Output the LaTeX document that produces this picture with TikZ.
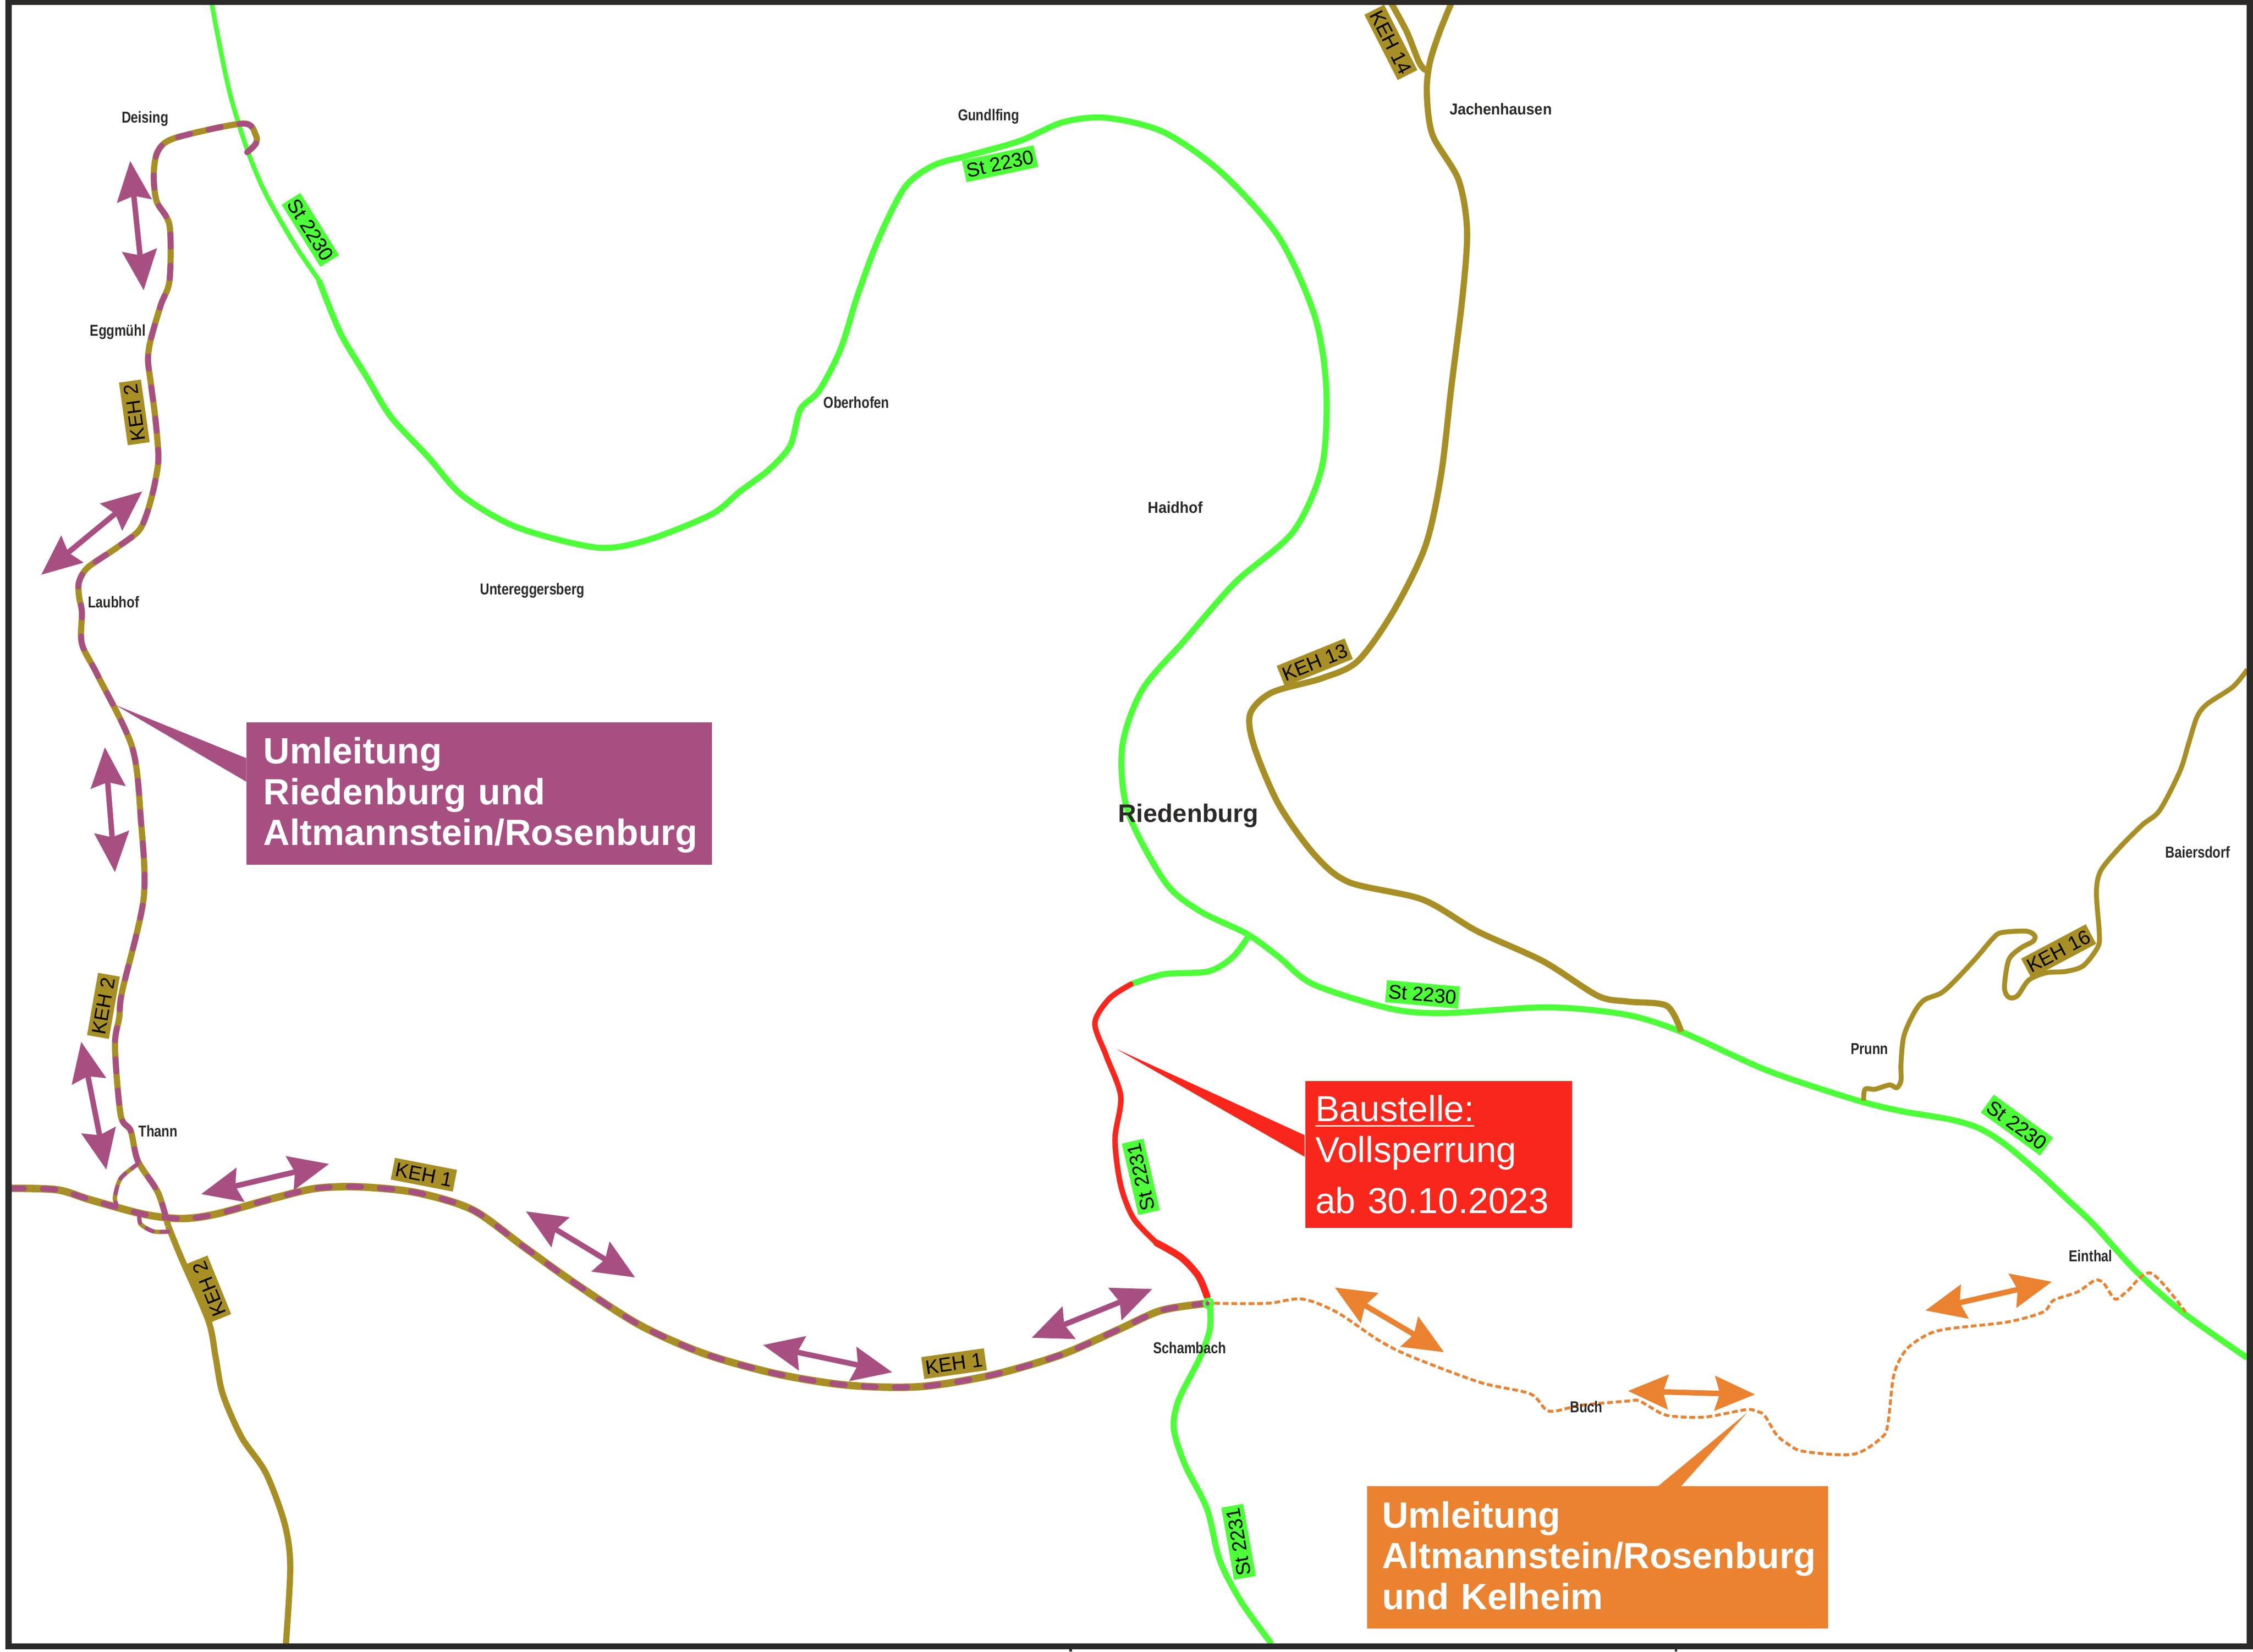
\documentclass[tikz,border=0pt]{standalone}
\usepackage{fontspec}
\setmainfont{Liberation Sans}
\newfontfamily\townfont[FakeStretch=.82]{Liberation Sans}
\newfontfamily\widetownfont[FakeStretch=.93]{Liberation Sans}
\usetikzlibrary{arrows.meta}
\definecolor{stgreen}{HTML}{4DFF38}
\definecolor{kehbrown}{HTML}{A88F25}
\definecolor{detourpurple}{HTML}{A84F82}
\definecolor{detourorange}{HTML}{EA8230}
\definecolor{sitered}{HTML}{F9261C}
\definecolor{mapdark}{HTML}{2B2A29}
\tikzset{
stroad/.style={draw=stgreen, line width=2.1pt, line join=round},
kehroad/.style={draw=kehbrown, line width=2.15pt, line join=round},
detourdash/.style={draw=detourpurple, line width=2pt, line cap=round, dash pattern=on 4.4pt off 6.5pt},
orangedash/.style={draw=detourorange, line width=1pt, dash pattern=on 2pt off 1pt},
detourarrow/.style={line width=1.9pt, <->, >={Stealth[length=13.9pt,width=11.9pt,inset=1.7pt]}},
stsign/.style={fill=stgreen, inner sep=0pt, minimum width=25.5pt, minimum height=7.7pt, font=\fontsize{6.9pt}{8pt}\selectfont},
kehsign/.style={stsign, fill=kehbrown},
town/.style={inner sep=0pt, text=mapdark, font=\townfont\bfseries\fontsize{5.5pt}{6pt}\selectfont},
widetown/.style={town, font=\widetownfont\bfseries\fontsize{5.5pt}{6pt}\selectfont},
notebox/.style={anchor=north west, inner sep=0pt, inner xsep=6pt, align=left, text=white, font=\bfseries\fontsize{12.7pt}{14.2pt}\selectfont},
}
\newcommand{\firstline}{\rule{0pt}{10.3pt}}
\newcommand{\lastline}{\rule[-2.7pt]{0pt}{2.7pt}}

\begin{document}
\begin{tikzpicture}[x=.5pt,y=-.5pt]
        \useasboundingbox (0,0) rectangle (1568,1149.4);

        % state roads
        \draw[stroad, line width=1.6pt] plot[smooth, tension=.5] coordinates {(147,0) (151,22) (160,65) (172,104) (185,135) (205,170) (222,195)};
        \draw[stroad] plot[smooth, tension=.5] coordinates {(222,195) (237,232) (255,262) (272,290) (298,318) (322,345) (360,367) (415,381) (450,376) (495,358) (515,342) (535,327) (550,310) (557,285) (570,272) (585,243) (597,205) (612,165) (630,130) (650,115) (675,108) (710,98) (740,85) (770,82) (810,92) (850,120) (890,165) (915,220) (923,270) (920,325) (900,370) (860,405) (825,445) (795,480) (781,520) (785,565) (811,614) (835,634) (868,650) (890,666) (914,685) (968,702) (1006,705) (1077,701) (1131,706) (1170,718) (1230,745) (1290,765) (1322,773) (1357,779) (1377,785) (1395,796) (1420,817) (1438,834) (1457,852) (1487,885) (1520,914) (1564,945)};
        \draw[stroad] plot[smooth, tension=.5] coordinates {(870,650) (858,666) (841,676) (810,678) (787,685)};
        \draw[stroad] plot[smooth, tension=.5] coordinates {(842,906) (842,925) (835,945) (820,975) (817,995) (825,1020) (840,1050) (849,1086) (864,1115) (885,1144)};

        % district roads
        \draw[kehroad, line width=2.6pt, save path=\routeone] plot[smooth, tension=.5] coordinates {(8,827) (40,828) (63,835) (100,845) (126,848) (150,845) (190,834) (220,827) (251,826) (290,830) (329,842) (365,868) (400,893) (445,922) (490,942) (540,956) (590,964) (640,965) (690,957) (738,943) (779,925) (808,912) (840,907)};
        \draw[kehroad, save path=\routetwo] plot[smooth, tension=.5] coordinates {(172,106) (178,100) (178,94) (169,86) (122,96) (110,105) (107,121) (109,140) (118,157) (118,195) (112,212) (105,236) (103,250) (105,267) (108,290) (110,312) (110,323) (107,340) (102,358) (96,370) (80,382) (61,395) (55,405) (55,415) (57,426) (57,448) (68,470) (92,520) (98,570) (100,625) (85,690) (83,708) (80,728) (84,776) (91,787) (96,808) (110,830) (117,853)};
        \draw[kehroad] plot[smooth, tension=.5] coordinates {(117,853) (126,875) (145,919) (150,944) (155,970) (168,1000) (185,1025) (198,1060) (202,1090) (199,1144)};
        \draw[kehroad, line width=1.5pt, save path=\sideone] plot[smooth, tension=.5] coordinates {(96,810) (84,820) (80,833) (81,838)};
        \draw[kehroad, line width=1.5pt, save path=\sidetwo] plot[smooth, tension=.5] coordinates {(97,846) (98,852) (107,857) (118,857)};
        \draw[kehroad] plot[smooth, tension=.5] coordinates {(1011,0) (1002,22) (995,44) (993,65) (997,94) (1015,125) (1021,160) (1018,205) (1010,270) (1003,330) (992,380) (970,425) (945,460) (920,472) (885,482) (870,497) (873,520) (890,560) (915,595) (939,614) (990,626) (1028,648) (1074,669) (1112,693) (1133,697) (1160,700) (1170,718)};
        \draw[kehroad] plot[smooth, tension=.5] coordinates {(967,0) (979,22) (987,42) (991,48) (994,49)};
        \draw[kehroad, line width=1.7pt] plot[smooth, tension=.5] coordinates {(1564,466) (1554,478) (1536,490) (1529,499) (1523,518) (1517,537) (1503,564) (1491,574) (1475,590) (1462,606) (1459,621) (1461,649) (1460,659) (1450,672) (1438,676) (1424,677) (1412,682) (1404,693) (1398,694) (1395,687) (1398,668) (1406,660) (1415,655) (1416,651) (1410,648) (1393,649) (1387,653) (1375,667) (1361,682) (1351,691) (1339,696) (1332,705) (1325,721) (1323,740) (1323,752) (1320,757) (1315,755) (1305,758) (1298,758) (1297,766)};

        % detours
        \draw[detourdash, use path=\routeone];
        \draw[detourdash, use path=\routetwo];
        \draw[detourdash, line width=1.4pt, dash pattern=on 2.5pt off 3pt, use path=\sideone];
        \draw[detourdash, line width=1.4pt, dash pattern=on 2.5pt off 3pt, use path=\sidetwo];
        \draw[orangedash] plot[smooth, tension=.5] coordinates {(845,907) (882,907) (906,904) (930,913) (960,933) (982,944) (1030,962) (1065,970) (1078,982) (1100,978) (1133,975) (1141,975) (1157,984) (1169,986) (1188,986) (1215,981) (1222,982) (1228,985) (1236,998) (1243,1004) (1255,1010) (1290,1012) (1310,1000) (1314,990) (1318,957) (1326,940) (1339,930) (1354,925) (1397,920) (1422,913) (1429,905) (1446,899) (1458,891) (1464,893) (1472,904) (1480,899) (1497,886) (1521,913)};

        % closed section
        \draw[draw=sitered, line width=1.9pt, line cap=round] plot[smooth, tension=.5] coordinates {(787,685) (772,695) (762,712) (770,735) (780,763) (776,793) (780,825) (789,848) (805,865)};
        \draw[draw=sitered, line width=2.4pt, line cap=round] plot[smooth, tension=.5] coordinates {(805,865) (822,875) (834,888) (840,902)};
        \draw[draw=stgreen, line width=1pt] (841,907) circle (3);

        \draw[detourarrow, detourpurple] (90.6,112) -- (100,202);
        \draw[detourarrow, detourpurple] (28.7,400) -- (99,342);
        \draw[detourarrow, detourpurple] (73,520) -- (80,607);
        \draw[detourarrow, detourpurple] (56.5,725) -- (74,814);
        \draw[detourarrow, detourpurple] (140,831) -- (229,810);
        \draw[detourarrow, detourpurple] (366,843) -- (442,889);
        \draw[detourarrow, detourpurple] (531,936) -- (621,955);
        \draw[detourarrow, detourpurple] (718,931) -- (802,897);
        \draw[detourarrow, detourorange] (929,896) -- (1005,941);
        \draw[detourarrow, detourorange] (1133,968) -- (1221.4,970.4);
        \draw[detourarrow, detourorange] (1340,912) -- (1428,892);

        % road signs
        \node[stsign, rotate=-58] (st2230a) at (216,160) {St 2230};
        \node[stsign, rotate=12] (st2230b) at (696,114) {St 2230};
        \node[stsign, rotate=-5] (st2230c) at (990,692) {St 2230};
        \node[stsign, rotate=-36] (st2230d) at (1403.7,783) {St 2230};
        \node[stsign, rotate=103] (st2231a) at (794,819) {St 2231};
        \node[stsign, rotate=100] (st2231b) at (862,1073) {St 2231};
        \node[kehsign, rotate=98, minimum width=22pt] (keh2a) at (93.5,287) {KEH 2};
        \node[kehsign, rotate=80, minimum width=22pt] (keh2b) at (72,700) {KEH 2};
        \node[kehsign, rotate=112, minimum width=22pt] (keh2c) at (145.5,897) {KEH 2};
        \node[kehsign, rotate=-11, minimum width=22pt] (keh1a) at (295,817.5) {KEH 1};
        \node[kehsign, rotate=8, minimum width=22pt] (keh1b) at (664,949) {KEH 1};
        \node[kehsign, rotate=22] (keh13) at (915,461) {KEH 13};
        \node[kehsign, rotate=-63] (keh14) at (968,29.5) {KEH 14};
        \node[kehsign, rotate=28] (keh16) at (1432.7,662) {KEH 16};

        % places
        \node[town] (deising) at (101,82.5) {Deising};
        \node[town] (eggmuehl) at (82,231) {Eggmühl};
        \node[town] (laubhof) at (79,419) {Laubhof};
        \node[town] (thann) at (110,787) {Thann};
        \node[town] (gundlfing) at (688,81) {Gundlfing};
        \node[widetown] (jachenhausen) at (1044.5,76) {Jachenhausen};
        \node[town] (oberhofen) at (596,280) {Oberhofen};
        \node[widetown] (haidhof) at (818,353) {Haidhof};
        \node[town] (untereggersberg) at (370.5,411) {Untereggersberg};
        \node[town] (schambach) at (828,938) {Schambach};
        \node[town] (buch) at (1104,979) {Buch};
        \node[town] (einthal) at (1455,874) {Einthal};
        \node[town] (prunn) at (1301,730) {Prunn};
        \node[town] (baiersdorf) at (1529.5,593) {Baiersdorf};
        \node[town, font=\bfseries\fontsize{8.8pt}{10pt}\selectfont] (riedenburg) at (827,567.5) {Riedenburg};

        % notes
        \fill[detourpurple] (80.3,490.6) -- (171.4,527.6) -- (171.4,544) -- cycle;
        \fill[sitered] (777,730) -- (908,790) -- (908,805) -- cycle;
        \fill[detourorange] (1216,983) -- (1154,1034.2) -- (1170,1034.2) -- cycle;
        \node[notebox, fill=detourpurple, minimum width=162pt, minimum height=49.5pt, text width=150pt] (detourwest) at (171,502.4) {\firstline Umleitung\\Riedenburg und\\Altmannstein/Rosenburg\lastline};
        \node[notebox, fill=sitered, minimum width=92.8pt, minimum height=51pt, inner xsep=3.5pt, text width=85.8pt, font=\fontsize{12.6pt}{14.2pt}\selectfont] (siteclosed) at (908,752) {\underline{Baustelle:}\\Vollsperrung\\[3.6pt]ab 30.10.2023};
        \node[notebox, fill=detourorange, minimum width=160.5pt, minimum height=49.5pt, inner xsep=5.25pt, text width=150pt] (detoureast) at (951,1034) {\firstline Umleitung\\Altmannstein/Rosenburg\\und Kelheim\lastline};

        % frame
        \draw[mapdark, line width=2.1pt] (5.9,1.2) rectangle (1565.8,1145.7);
        \draw[mapdark, line width=.9pt] (745,1146) -- (745,1149.4);
        \draw[mapdark, line width=.9pt] (1166.4,1146) -- (1166.4,1149.4);
\end{tikzpicture}
\end{document}
